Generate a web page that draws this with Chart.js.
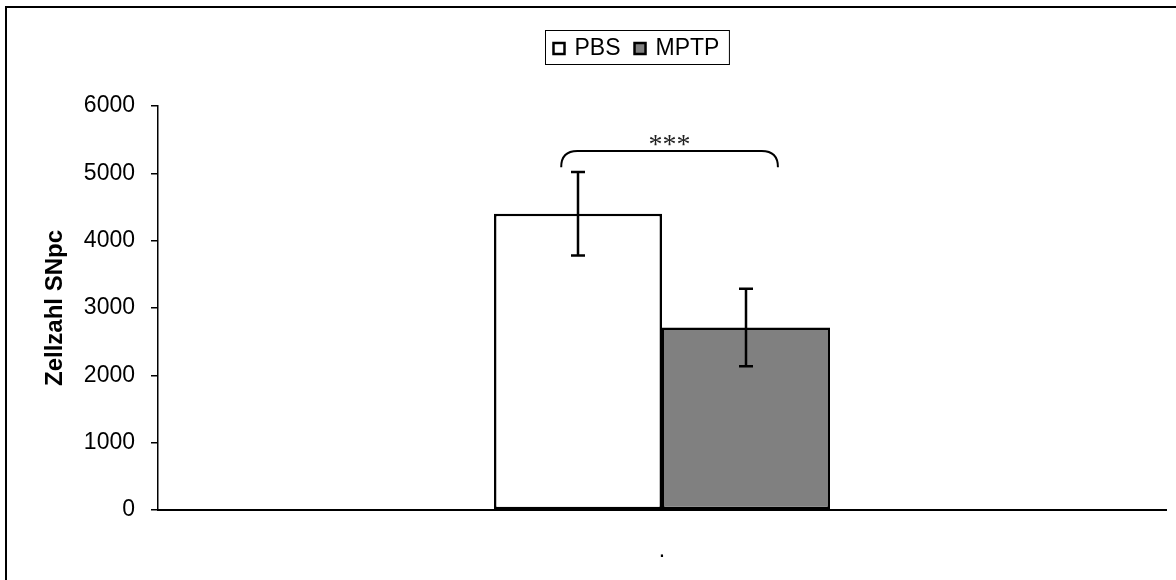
<!DOCTYPE html>
<html>
<head>
<meta charset="utf-8">
<script src="https://cdn.jsdelivr.net/npm/chart.js@4/dist/chart.umd.min.js"></script>
<style>
  html, body { margin: 0; padding: 0; background: #fff; }
  #wrap { width: 1176px; height: 580px; }
</style>
</head>
<body>
<div id="wrap"><canvas id="c" width="1176" height="580"></canvas></div>
<script>
// Cell counts in the substantia nigra pars compacta
const categories = ['.'];
const seriesNames = ['PBS', 'MPTP'];
const pbsMean = [4400];
const pbsSd = [620];
const mptpMean = [2710];
const mptpSd = [575];
const yTicks = [0, 1000, 2000, 3000, 4000, 5000, 6000];
const significance = '***';
const bracketTop = 5330;
const bracketEnds = 5090;

const FONT = "'Liberation Sans', Arial, sans-serif";

// White page with a frame line along the top and left edges
const framePlugin = {
  id: 'frame',
  beforeDraw(chart) {
    const ctx = chart.ctx;
    ctx.save();
    ctx.fillStyle = '#fff';
    ctx.fillRect(0, 0, chart.width, chart.height);
    ctx.strokeStyle = '#000';
    ctx.lineWidth = 2;
    ctx.beginPath();
    ctx.moveTo(6, chart.height + 2);
    ctx.lineTo(6, 7);
    ctx.lineTo(chart.width + 2, 7);
    ctx.stroke();
    ctx.restore();
  }
};

// Standard deviation whiskers on each bar
const errorBarPlugin = {
  id: 'errorBars',
  afterDatasetsDraw(chart) {
    const ctx = chart.ctx;
    const y = chart.scales.y;
    ctx.save();
    ctx.strokeStyle = '#000';
    ctx.lineWidth = 2.5;
    chart.data.datasets.forEach((ds, di) => {
      const meta = chart.getDatasetMeta(di);
      meta.data.forEach((bar, i) => {
        const m = ds.data[i], s = ds.sd[i];
        const yt = y.getPixelForValue(m + s);
        const yb = y.getPixelForValue(m - s);
        const cap = 7;
        ctx.beginPath();
        ctx.moveTo(bar.x, yt); ctx.lineTo(bar.x, yb);
        ctx.moveTo(bar.x - cap, yt); ctx.lineTo(bar.x + cap, yt);
        ctx.moveTo(bar.x - cap, yb); ctx.lineTo(bar.x + cap, yb);
        ctx.stroke();
      });
    });
    ctx.restore();
  }
};

// Significance bracket between the two groups
const bracketPlugin = {
  id: 'bracket',
  afterDatasetsDraw(chart) {
    const ctx = chart.ctx;
    const y = chart.scales.y;
    const a = chart.getDatasetMeta(0).data[0];
    const b = chart.getDatasetMeta(1).data[0];
    const x1 = a.x - a.width * 0.1;
    const x2 = b.x + b.width * 0.19;
    const yTop = y.getPixelForValue(bracketTop);
    const yEnd = y.getPixelForValue(bracketEnds);
    const r = yEnd - yTop;
    ctx.save();
    ctx.strokeStyle = '#000';
    ctx.lineWidth = 2;
    ctx.beginPath();
    ctx.moveTo(x1, yEnd);
    ctx.quadraticCurveTo(x1, yTop, x1 + r, yTop);
    ctx.lineTo(x2 - r, yTop);
    ctx.quadraticCurveTo(x2, yTop, x2, yEnd);
    ctx.stroke();
    ctx.fillStyle = '#222';
    ctx.font = "28px 'Liberation Serif', 'DejaVu Serif', serif";
    ctx.textAlign = 'center';
    ctx.textBaseline = 'alphabetic';
    ctx.fillText(significance, (x1 + x2) / 2, yTop + 2);
    ctx.restore();
  }
};

// Boxed legend above the plot
const boxLegendPlugin = {
  id: 'boxLegend',
  afterDraw(chart) {
    const ctx = chart.ctx;
    ctx.save();
    ctx.font = '23px ' + FONT;
    const sq = 11, gap = 10, between = 14, padX = 8;
    const items = chart.data.datasets.map(ds => ({
      label: ds.label, fill: ds.backgroundColor,
      w: sq + gap + ctx.measureText(ds.label).width
    }));
    const inner = items.reduce((s, it) => s + it.w, 0) + between * (items.length - 1);
    const boxW = inner + padX * 2 + 2;
    const boxH = 34;
    const bx = 545.5;
    const by = 30.5;
    ctx.strokeStyle = '#000';
    ctx.lineWidth = 1;
    ctx.strokeRect(bx, by, boxW, boxH);
    let x = bx + padX;
    const midY = by + boxH / 2;
    items.forEach(it => {
      ctx.fillStyle = it.fill;
      ctx.fillRect(x, midY - sq / 2 + 1, sq, sq);
      ctx.lineWidth = 2.5;
      ctx.strokeRect(x, midY - sq / 2 + 1, sq, sq);
      ctx.fillStyle = '#000';
      ctx.textAlign = 'left';
      ctx.textBaseline = 'middle';
      ctx.fillText(it.label, x + sq + gap, midY + 1);
      x += it.w + between;
    });
    ctx.restore();
  }
};

new Chart(document.getElementById('c'), {
  type: 'bar',
  data: {
    labels: categories,
    datasets: [
      { label: seriesNames[0], data: pbsMean, sd: pbsSd, backgroundColor: '#ffffff',
        borderColor: '#000', borderWidth: 2.5, borderSkipped: false },
      { label: seriesNames[1], data: mptpMean, sd: mptpSd, backgroundColor: '#808080',
        borderColor: '#000', borderWidth: 2.5, borderSkipped: false }
    ]
  },
  options: {
    responsive: false,
    animation: false,
    layout: { padding: { top: 106, right: 10, left: 0, bottom: 0 } },
    datasets: { bar: { barPercentage: 1.0, categoryPercentage: 1 / 3 } },
    plugins: { legend: { display: false }, tooltip: { enabled: false } },
    scales: {
      x: {
        grid: { display: false },
        border: { display: true, color: '#000', width: 2 },
        ticks: { color: '#000', font: { family: FONT, size: 23 }, padding: 19 },
        afterFit(s) { s.height = 70; }
      },
      y: {
        min: 0, max: 6000,
        afterBuildTicks(s) { s.ticks = yTicks.map(v => ({ value: v })); },
        grid: { drawOnChartArea: false, drawTicks: true, tickLength: 7, color: '#000', lineWidth: 1.5 },
        border: { display: true, color: '#000', width: 1.5 },
        ticks: { color: '#000', font: { family: FONT, size: 23 }, padding: 16,
                 callback: v => String(v) },
        title: { display: true, text: 'Zellzahl SNpc', color: '#000',
                 font: { family: FONT, size: 24, weight: 'bold' }, padding: { top: 41, bottom: 0 } },
        afterFit(s) { s.width = 158; }
      }
    }
  },
  plugins: [framePlugin, errorBarPlugin, bracketPlugin, boxLegendPlugin]
});
</script>
</body>
</html>
